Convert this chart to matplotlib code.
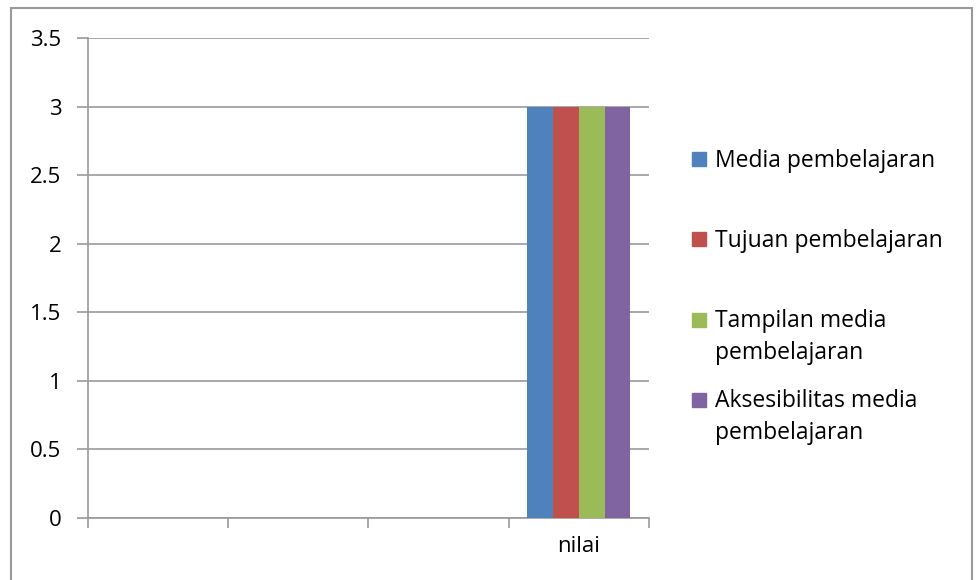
import numpy as np
import matplotlib.pyplot as plt
from matplotlib.patches import Rectangle

plt.rcParams['font.family'] = ['Open Sans', 'DejaVu Sans']

categories = ['', '', '', 'nilai']
series = ['Media pembelajaran', 'Tujuan pembelajaran',
          'Tampilan media\npembelajaran', 'Aksesibilitas media\npembelajaran']
values = [
    [np.nan, np.nan, np.nan, 3],
    [np.nan, np.nan, np.nan, 3],
    [np.nan, np.nan, np.nan, 3],
    [np.nan, np.nan, np.nan, 3],
]
colors = ['#4f81bd', '#c0504d', '#9bbb59', '#8064a2']

W, H = 979, 580
fig = plt.figure(figsize=(W / 100, H / 100), dpi=100)
ax = fig.add_axes([88 / W, 1 - 518 / H, (649 - 88) / W, (518 - 38) / H])

x = np.arange(len(categories))
bw = 0.184
for i, (name, vals, c) in enumerate(zip(series, values, colors)):
    ax.bar(x + (i - 1.5) * bw, vals, bw, color=c, label=name, zorder=3)

ax.set_xlim(-0.5, len(categories) - 0.5)
ax.set_ylim(0, 3.5)
ax.set_yticks(np.arange(0, 3.51, 0.5))
ax.set_yticklabels(['0', '0.5', '1', '1.5', '2', '2.5', '3', '3.5'])
ax.yaxis.grid(True, color='#999999', linewidth=1.2, zorder=0)

# category boundaries carry the tick marks, labels sit in between
ax.set_xticks(np.arange(-0.5, len(categories), 1.0))
ax.set_xticklabels([])
ax.set_xticks(x, minor=True)
ax.set_xticklabels(categories, minor=True)
ax.tick_params(axis='x', which='minor', length=0, pad=13, labelsize=16)
ax.tick_params(axis='x', which='major', length=7, width=1.2, color='#999999', direction='out')
ax.tick_params(axis='y', length=8, width=1.2, color='#999999', pad=11, labelsize=16)

for side in ['top', 'right']:
    ax.spines[side].set_visible(False)
for side in ['left', 'bottom']:
    ax.spines[side].set_color('#999999')
    ax.spines[side].set_linewidth(1.2)

# chart area border
fig.patches.append(Rectangle((11 / W, -0.05), (972 - 11) / W, 1.05 - 8 / H,
                             transform=fig.transFigure, fill=False,
                             edgecolor='#999999', linewidth=1.5))

# legend entries: square centre and first-line baseline (pixels from top)
legend_y = [159, 239, 320, 400]
legend_base = [167, 247, 327, 407]
line_step = 32
for name, c, yy, yb in zip(series, colors, legend_y, legend_base):
    fig.patches.append(Rectangle((692 / W, 1 - (yy + 7) / H), 14 / W, 14 / H,
                                 transform=fig.transFigure, color=c))
    for k, line in enumerate(name.split('\n')):
        fig.text(715 / W, 1 - (yb + k * line_step) / H, line, fontsize=16.5,
                 va='baseline', ha='left')

fig.savefig('out.png', dpi=100)
